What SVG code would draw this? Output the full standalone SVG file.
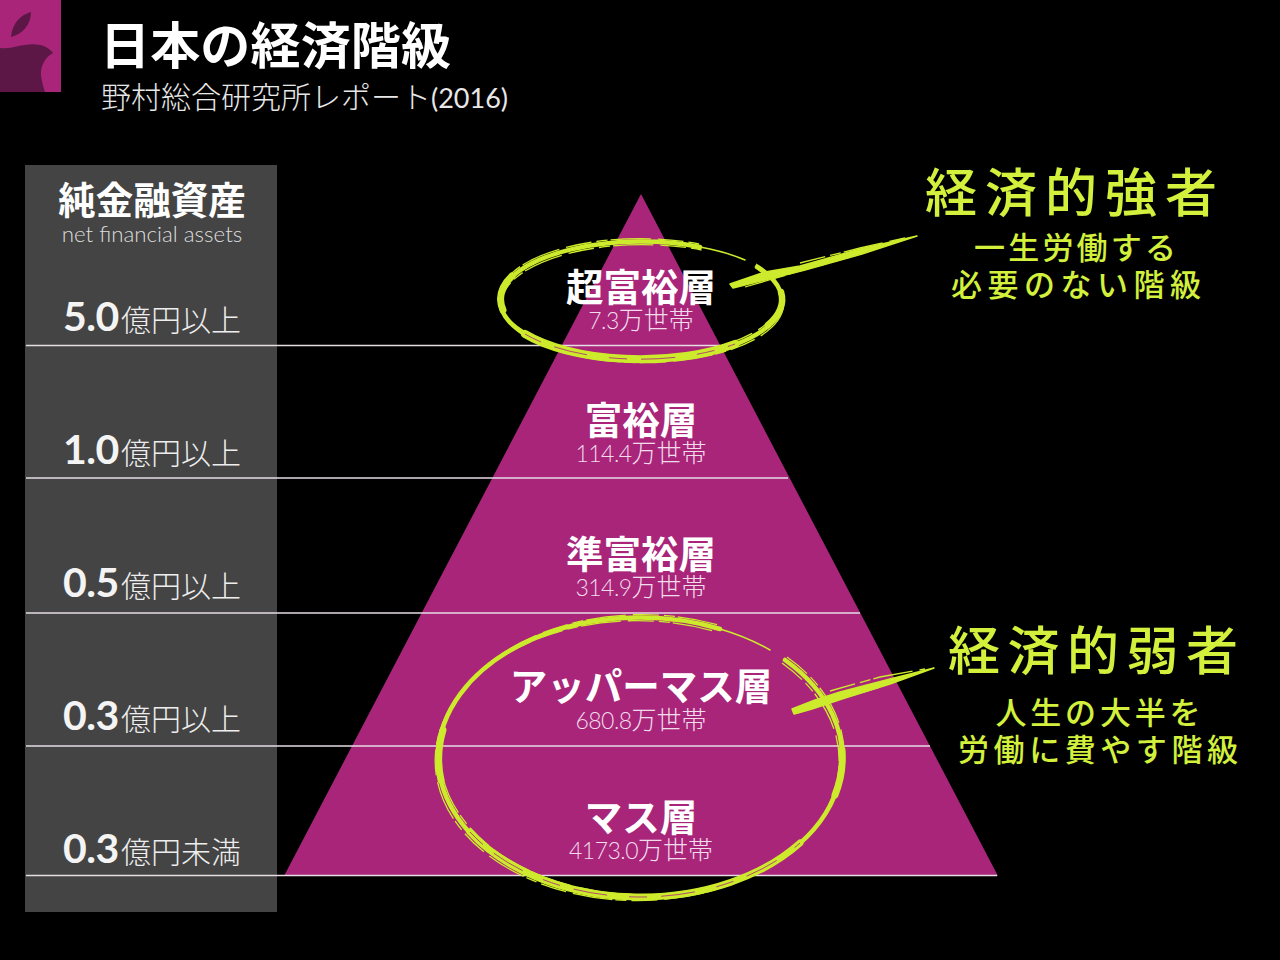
<svg xmlns="http://www.w3.org/2000/svg" width="1280" height="960" viewBox="0 0 1280 960">
<defs>
<style>
text{font-family:"Noto Sans CJK JP","Noto Sans",sans-serif;fill:#fff}
.lat{font-family:Lato,"Noto Sans CJK JP",sans-serif}
.title{font-size:50px;font-weight:700}
.sub{font-size:30px;font-weight:300;fill:#e8e8e8}
.head{font-size:37.500px;font-weight:700;text-anchor:middle}
.tier{font-size:37.500px;font-weight:700;text-anchor:middle}
.count{font-size:25px;font-weight:300;text-anchor:middle;fill:#f0dcea}
.cn{font-size:23px;font-family:Lato,sans-serif;font-weight:300;letter-spacing:-.5px}
.num{font-size:41px;font-weight:700;font-family:Lato,sans-serif;fill:#f4f4f4;letter-spacing:-.5px}
.unit{font-size:30px;font-weight:300;fill:#eee}
.hand1{font-size:52px;font-weight:500;fill:#d2f03c;text-anchor:middle}
.hand2{font-size:31px;font-weight:500;fill:#d2f03c;text-anchor:middle}
.rule{stroke:#e6dce4;stroke-width:1.3;fill:none}
.b{fill:none;stroke:#cdea2c;stroke-linecap:round}
.g{fill:none;stroke:#cdea2c;stroke-width:1.300;stroke-dasharray:26 5 11 3 40 7}
.s{fill:none;stroke:#a9257a;stroke-width:.8;stroke-dasharray:18 14 34 22}
</style>
</defs>
<rect width="1280" height="960" fill="#000"/>
<g id="logo">
<rect x="0" y="0" width="61" height="92" fill="#a9257a"/>
<path d="M0 48C12 50 24 42 40 45C46 46 51 50 53 53C44 58 40 68 41 76C42 81 43 87 45 92L0 92Z" fill="#5c1746"/>
<path d="M11 37C12 24 20 15 31 12C31 24 23 34 11 37Z" fill="#5c1746"/>
</g>
<g id="title">
<text class="title" x="100" y="64" textLength="351" lengthAdjust="spacing">日本の経済階級</text>
<text class="sub" x="101" y="108">野村総合研究所レポート<tspan class="lat" font-size="27" font-weight="400">(2016)</tspan></text>
</g>
<g id="panel">
<rect x="25" y="165" width="252" height="747" fill="#444"/>
<text class="head" x="152" y="214">純金融資産</text>
<text class="lat" x="152" y="242" font-size="22.300" font-weight="300" text-anchor="middle" style="fill:#ddd">net financial assets</text>
</g>
<g id="pyramid"><polygon points="641,194 284,876 998,876" fill="#a9257a"/></g>
<g id="rules">
<line class="rule" x1="26" y1="345.500" x2="720" y2="345.500"/>
<line class="rule" x1="26" y1="478" x2="788" y2="478"/>
<line class="rule" x1="26" y1="613" x2="860" y2="613"/>
<line class="rule" x1="26" y1="746" x2="930" y2="746"/>
<line class="rule" x1="26" y1="875.500" x2="997" y2="875.500"/>
</g>
<g id="level-5"><text class="num" x="63" y="331">5.0</text><text class="unit" x="121" y="331">億円以上</text></g>
<g id="level-1"><text class="num" x="63" y="464">1.0</text><text class="unit" x="121" y="464">億円以上</text></g>
<g id="level-05"><text class="num" x="63" y="597">0.5</text><text class="unit" x="121" y="597">億円以上</text></g>
<g id="level-03"><text class="num" x="63" y="730">0.3</text><text class="unit" x="121" y="730">億円以上</text></g>
<g id="level-03u"><text class="num" x="63" y="863">0.3</text><text class="unit" x="121" y="863">億円未満</text></g>
<g id="tier-super"><text class="tier" x="641" y="301">超富裕層</text><text class="count" x="641" y="329"><tspan class="cn">7.3</tspan>万世帯</text></g>
<g id="tier-rich"><text class="tier" x="641" y="434">富裕層</text><text class="count" x="641" y="462"><tspan class="cn">114.4</tspan>万世帯</text></g>
<g id="tier-semi"><text class="tier" x="641" y="568">準富裕層</text><text class="count" x="641" y="596"><tspan class="cn">314.9</tspan>万世帯</text></g>
<g id="tier-upper"><text class="tier" x="641" y="700">アッパーマス層</text><text class="count" x="641" y="729"><tspan class="cn">680.8</tspan>万世帯</text></g>
<g id="tier-mass"><text class="tier" x="641" y="831">マス層</text><text class="count" x="641" y="859"><tspan class="cn">4173.0</tspan>万世帯</text></g>
<g id="connectors">
<path class="b" stroke-width="4.500" d="M757 267A141 59 0 1 1 700 247"/>
<path class="b" stroke-width="1.500" d="M700 247A141 59 0 0 1 745 260"/>
<path class="b" stroke-width="8" d="M525 334A141 59 0 0 0 735 344"/>
<path class="b" stroke-width="7" d="M503 310A141 59 0 0 1 512 276"/>
<path class="b" stroke-width="6.500" d="M781 292A141 59 0 0 1 768 325"/>
<path class="g" d="M757 267A141 59 0 1 1 700 247" transform="translate(1.500 3)"/>
<path class="g" d="M757 267A141 59 0 1 1 700 247" transform="translate(-1 -3)"/>
<path class="s" d="M525 334A141 59 0 0 0 735 344"/>
<path class="b" stroke-width="4.500" d="M785 660A202 140 0 1 1 720 629"/>
<path class="b" stroke-width="1.500" d="M720 629A202 140 0 0 1 770 650"/>
<path class="b" stroke-width="7" d="M470 832A202 140 0 0 0 800 843"/>
<path class="b" stroke-width="7" d="M441 780A202 140 0 0 1 443 730"/>
<path class="b" stroke-width="7" d="M842 750A202 140 0 0 1 835 795"/>
<path class="g" d="M785 660A202 140 0 1 1 720 629" transform="translate(-3 3)"/>
<path class="g" d="M785 660A202 140 0 1 1 720 629" transform="translate(2 -3)"/>
<path class="s" d="M470 832A202 140 0 0 0 800 843"/>
<path d="M730 284L765 272L800 266L860 249L917 236L862 254L805 270L765 280L733 288Z" fill="#cdea2c" stroke="#cdea2c" stroke-width="1.500" stroke-linejoin="round"/>
<path class="g" d="M745 287L800 271L850 257M800 263L860 248L905 238"/>
<path d="M792 709L815 700L840 692L890 679L934 668L890 684L845 698L812 709L794 714Z" fill="#cdea2c" stroke="#cdea2c" stroke-width="1.500" stroke-linejoin="round"/>
<path class="g" d="M798 713L840 699L880 687M830 691L880 677L925 669"/>
</g>
<g id="note-strong">
<text class="hand1" x="1071" y="212" textLength="292" lengthAdjust="spacing">経済的強者</text>
<text class="hand2" x="1075" y="259" textLength="202" lengthAdjust="spacing">一生労働する</text>
<text class="hand2" x="1076" y="296" textLength="250" lengthAdjust="spacing">必要のない階級</text>
</g>
<g id="note-weak">
<text class="hand1" x="1093" y="670" textLength="290" lengthAdjust="spacing">経済的弱者</text>
<text class="hand2" x="1098" y="724" textLength="205" lengthAdjust="spacing">人生の大半を</text>
<text class="hand2" x="1098" y="761" textLength="280" lengthAdjust="spacing">労働に費やす階級</text>
</g>
</svg>
